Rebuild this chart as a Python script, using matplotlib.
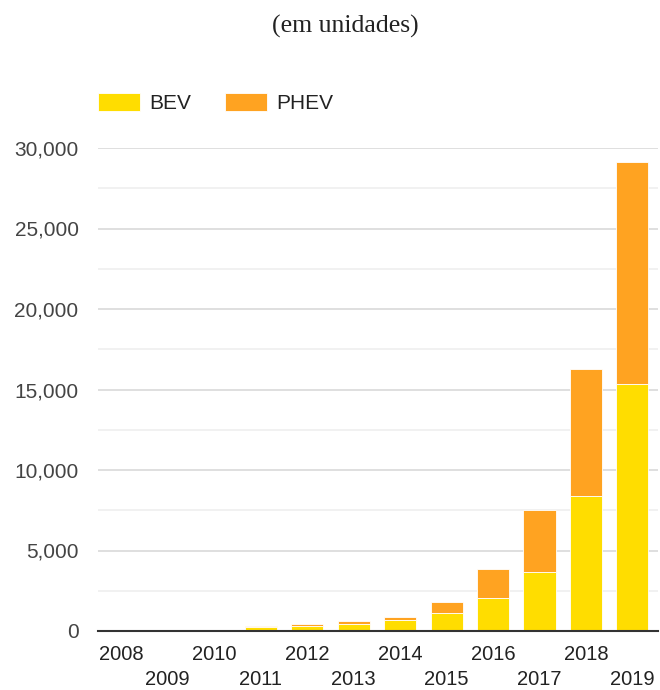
import matplotlib
matplotlib.use('Agg')
import matplotlib.pyplot as plt
import matplotlib.ticker as mticker
import numpy as np

# ── Data (units) ──────────────────────────────────────────────
years = [2008, 2009, 2010, 2011, 2012, 2013, 2014, 2015, 2016, 2017, 2018, 2019]
bev   = [0, 0, 0, 220, 300, 430, 680, 1100, 2050, 3680, 8380, 15340]
phev  = [0, 0, 0, 60, 130, 170, 190, 700, 1800, 3850, 7900, 13800]

BEV_COL  = '#FFDD00'
PHEV_COL = '#FFA321'

plt.rcParams.update({
    'font.family': ['Liberation Sans', 'DejaVu Sans'],
    'font.size': 15,
    'text.color': '#222222',
})

fig = plt.figure(figsize=(6.6, 6.9), dpi=100)
ax = fig.add_axes([98/660, 59/690, 560/660, (631-148)/690])

x = np.array(years)
ax.bar(x, bev, width=0.69, color=BEV_COL, edgecolor='white', linewidth=0.6,
       label='BEV', zorder=3)
ax.bar(x, phev, width=0.69, bottom=bev, color=PHEV_COL, edgecolor='white',
       linewidth=0.6, label='PHEV', zorder=3)

ax.set_xlim(2007.5, 2019.55)
ax.set_ylim(0, 30000)
ax.yaxis.set_major_locator(mticker.MultipleLocator(5000))
ax.yaxis.set_minor_locator(mticker.MultipleLocator(2500))
ax.yaxis.set_major_formatter(mticker.FuncFormatter(lambda v, _: f'{int(v):,}'))
ax.grid(True, which='major', axis='y', color='#d9d9d9', linewidth=1.2, zorder=0)
ax.grid(True, which='minor', axis='y', color='#efefef', linewidth=1.2, zorder=0)

ax.set_xticks(x)
ax.set_xticklabels([str(y) if i % 2 == 0 else '\n' + str(y)
                    for i, y in enumerate(years)], linespacing=1.38)
ax.tick_params(axis='both', which='both', length=0, colors='#222222')
ax.tick_params(axis='y', labelsize=15, pad=14)
ax.tick_params(axis='x', labelsize=14.5, pad=10)
for lbl in ax.get_yticklabels():
    lbl.set_color('#444444')

for s in ['top', 'right', 'left']:
    ax.spines[s].set_visible(False)
ax.spines['bottom'].set_color('#333333')
ax.spines['bottom'].set_linewidth(1.5)
ax.spines['bottom'].set_zorder(4)

fig.text(345/660, 1 - 26/690, '(em unidades)', ha='center', va='center',
         fontsize=18.5, family=['Liberation Serif', 'DejaVu Serif'])

fig.legend(loc='center left', bbox_to_anchor=(98/660, 1 - 103/690), ncol=2,
           frameon=False, handlelength=2.0, handleheight=1.0,
           handletextpad=0.48, columnspacing=1.6, fontsize=15,
           borderpad=0, borderaxespad=0)

fig.savefig('out.png', dpi=100, facecolor='white')
